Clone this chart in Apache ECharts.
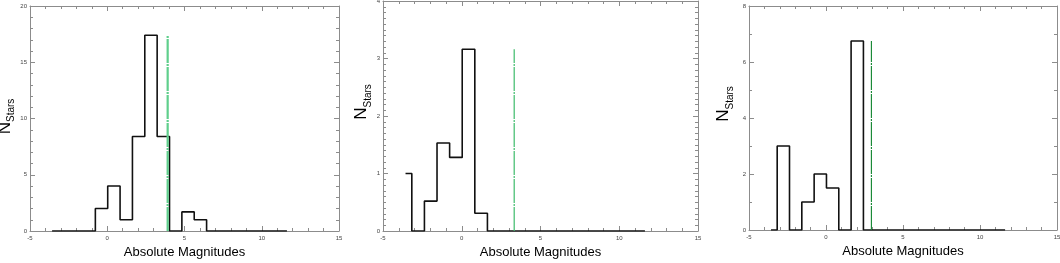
<!DOCTYPE html>
<html>
<head>
<meta charset="utf-8">
<script src="https://cdn.jsdelivr.net/npm/echarts@6/dist/echarts.min.js"></script>
<style>
  html, body { margin: 0; padding: 0; background: #fff; }
  #chart { width: 1060px; height: 263px; }
</style>
</head>
<body>
<div id="chart"></div>
<script>
// bin centres (absolute magnitude)
var binCenters = [-3.57, -2.77, -1.97, -1.17, -0.37, 0.43, 1.23, 2.03, 2.83, 3.63,
                  4.43, 5.23, 6.03, 6.83, 7.63, 8.43, 9.23, 10.03, 10.83, 11.63];

// star counts per bin, one list per panel
var countsA = [0, 0, 0, 0, 2.0, 4.0, 1.0, 8.4, 17.4, 8.4, 0, 1.7, 1.0, 0, 0, 0, 0, 0, 0, 0];
var countsB = [1.0, 0, 0.52, 1.53, 1.28, 3.16, 0.31, 0, 0, 0, 0, 0, 0, 0, 0, 0, 0, 0, 0, 0];
var countsC = [0, 3.0, 0, 1.0, 2.0, 1.5, 0, 6.75, 0, 0, 0, 0, 0, 0, 0, 0, 0, 0, 0, 0];

// vertical marker: position and height
var markerX = [3.91, 3.33, 2.95];
var markerTop = [17.35, 3.16, 6.75];

// y axis ranges / ticks
var yMax = [20, 4, 8];
var yStep = [5, 1, 2];
var yMinorSplit = [5, 10, 2];

var xTicks = { min: -5, max: 15, interval: 5 };

var panels = [
    { left: 30, width: 309, top: 6, height: 225, counts: countsA, nameGap: 12, lift: 4, green: '#5fcf8c', gw: 2.2 },
    { left: 383, width: 315, top: 1, height: 230, counts: countsB, nameGap: 7, lift: 28, green: '#3dbb6a', gw: 1.2 },
    { left: 749, width: 308, top: 6, height: 224, counts: countsC, nameGap: 14, lift: 28, green: '#1b8a38', gw: 1.2 }
];

var FONT = 'Liberation Sans, Arial, sans-serif';
var AXIS_GRAY = '#8c8c8c';

var grids = [], xAxes = [], yAxes = [], series = [];

for (var i = 0; i < panels.length; i++) {
    var p = panels[i];
    grids.push({
        left: p.left, width: p.width, top: p.top, height: p.height,
        containLabel: false, outerBoundsMode: 'none'
    });

    // bottom and top x axes (top one only mirrors ticks)
    for (var k = 0; k < 2; k++) {
        xAxes.push({
            type: 'value', gridIndex: i, position: k == 0 ? 'bottom' : 'top',
            min: xTicks.min, max: xTicks.max, interval: xTicks.interval,
            axisLine: { show: true, onZero: false, lineStyle: { color: AXIS_GRAY, width: 1 } },
            axisTick: { show: true, inside: true, length: 5, lineStyle: { color: AXIS_GRAY } },
            minorTick: { show: true, splitNumber: 5, length: 3, lineStyle: { color: AXIS_GRAY } },
            axisLabel: { show: k == 0, fontSize: 6, color: '#444', margin: 4, fontFamily: FONT },
            splitLine: { show: false },
            name: k == 0 ? 'Absolute Magnitudes' : '',
            nameLocation: 'middle', nameGap: 13,
            nameTextStyle: { fontSize: 13, color: '#000', fontFamily: FONT }
        });
    }

    // left and right y axes
    for (var k = 0; k < 2; k++) {
        yAxes.push({
            type: 'value', gridIndex: i, position: k == 0 ? 'left' : 'right',
            min: 0, max: yMax[i], interval: yStep[i],
            axisLine: { show: true, onZero: false, lineStyle: { color: AXIS_GRAY, width: 1 } },
            axisTick: { show: true, inside: true, length: 5, lineStyle: { color: AXIS_GRAY } },
            minorTick: { show: true, splitNumber: yMinorSplit[i], length: 3, lineStyle: { color: AXIS_GRAY } },
            axisLabel: { show: k == 0, fontSize: 6, color: '#444', margin: 3, fontFamily: FONT },
            splitLine: { show: false },
            name: k == 0 ? '{n|N}{s|Stars}' : '',
            nameLocation: 'middle', nameRotate: 90, nameGap: p.nameGap,
            nameTextStyle: {
                color: '#000', fontFamily: FONT,
                padding: [0, 0, 0, p.lift],
                rich: {
                    n: { fontSize: 17, color: '#000', fontFamily: FONT, verticalAlign: 'top' },
                    s: { fontSize: 10, color: '#000', fontFamily: FONT, verticalAlign: 'bottom', padding: [10, 0, 0, 0] }
                }
            }
        });
    }

    var hist = [];
    for (var j = 0; j < binCenters.length; j++) {
        hist.push([binCenters[j], p.counts[j]]);
    }
    series.push({
        type: 'line', xAxisIndex: i * 2, yAxisIndex: i * 2, step: 'middle',
        data: hist, showSymbol: false, silent: true, animation: false,
        lineStyle: { color: '#111', width: 1.6 }
    });
    series.push({
        type: 'line', xAxisIndex: i * 2, yAxisIndex: i * 2,
        data: [[markerX[i], 0], [markerX[i], markerTop[i]]],
        showSymbol: false, silent: true, animation: false,
        lineStyle: { color: p.green, width: p.gw, type: [24, 1, 2, 1] }
    });
}

var chart = echarts.init(document.getElementById('chart'));
chart.setOption({
    animation: false,
    grid: grids,
    xAxis: xAxes,
    yAxis: yAxes,
    series: series
});
</script>
</body>
</html>
